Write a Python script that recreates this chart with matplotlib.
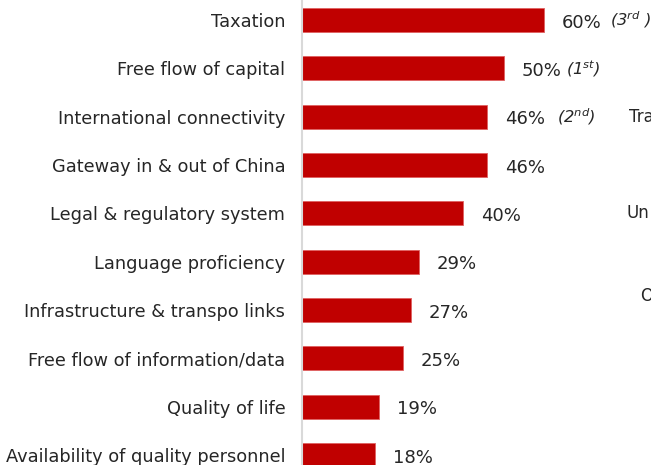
import matplotlib
matplotlib.use("Agg")
import matplotlib.pyplot as plt

categories = [
    "Taxation",
    "Free flow of capital",
    "International connectivity",
    "Gateway in & out of China",
    "Legal & regulatory system",
    "Language proficiency",
    "Infrastructure & transpo links",
    "Free flow of information/data",
    "Quality of life",
    "Availability of quality personnel",
]
values = [60, 50, 46, 46, 40, 29, 27, 25, 19, 18]
ranks = {0: ("3", "rd", "\\ "), 1: ("1", "st", ""), 2: ("2", "nd", "")}
side_texts = [("Tra", 81.1, 2), ("Un", 80.4, 4), ("O", 83.9, 5.7)]

plt.rcParams["font.family"] = "DejaVu Sans"
plt.rcParams["mathtext.fontset"] = "custom"
plt.rcParams["mathtext.it"] = "DejaVu Sans:italic"
plt.rcParams["mathtext.rm"] = "DejaVu Sans:italic"

fig = plt.figure(figsize=(6.51, 4.65), dpi=100)
ax = fig.add_axes([302 / 651, 0, 349 / 651, 1])

y = list(range(len(categories)))
ax.barh(y, values, height=0.5, color="#c00000", edgecolor="#e06060", linewidth=0.6)
ax.set_xlim(0, 349 / 4.03)
ax.set_ylim(9.207, -0.414)

ax.set_yticks(y)
ax.set_yticklabels(categories, fontsize=12.8, color="#262626")
ax.tick_params(axis="y", length=0, pad=12)
ax.set_xticks([])
for s in ["top", "right", "bottom"]:
    ax.spines[s].set_visible(False)
ax.spines["left"].set_color("#d9d9d9")
ax.spines["left"].set_linewidth(1.5)

# offset (px) of the rank note from the bar end
rank_dx = {0: 66, 1: 62, 2: 70}

for i, v in enumerate(values):
    ax.annotate(f"{v}%", (v, i), xytext=(13, -2), textcoords="offset points",
                va="center", ha="left", fontsize=13, color="#262626")
    if i in ranks:
        n, suf, tail = ranks[i]
        ax.annotate(rf"$\mathit{{({n}^{{{suf}}}{tail})}}$", (v, i),
                    xytext=(rank_dx[i] * 0.72, 0), textcoords="offset points",
                    va="center", ha="left", fontsize=11.8, color="#262626")

for t, xv, yi in side_texts:
    ax.text(xv, yi, t, va="center", ha="left", fontsize=12,
            color="#262626", clip_on=False)

fig.savefig("out.png", dpi=100)
